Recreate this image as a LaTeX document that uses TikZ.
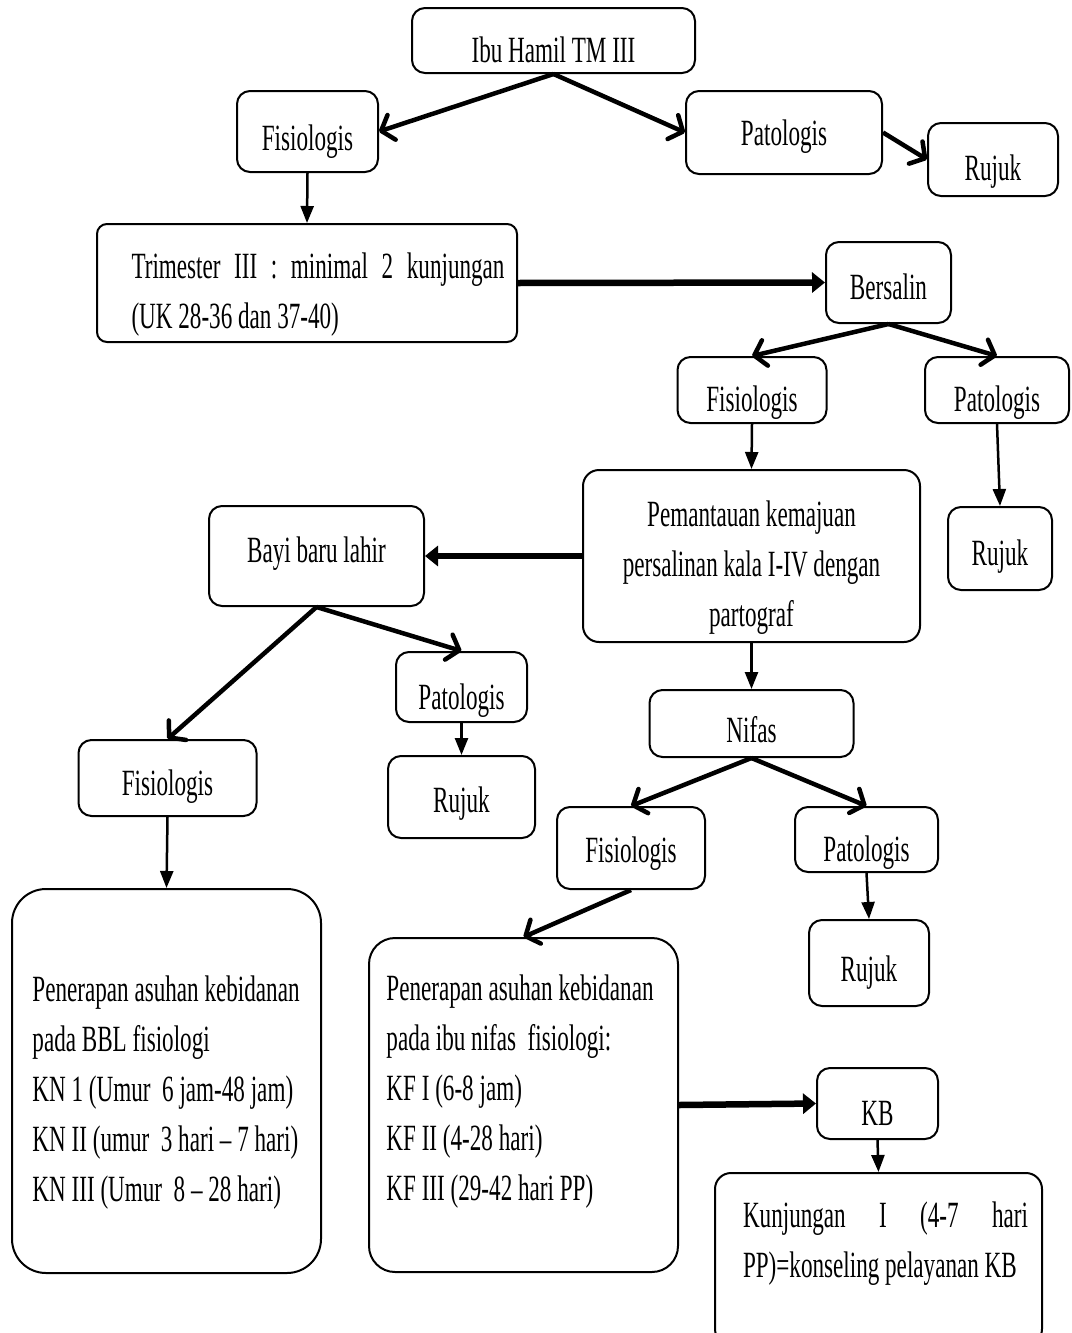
\documentclass[tikz,border=0pt]{standalone}
\usepackage{fontspec}
\setmainfont{Liberation Serif}[FakeStretch=0.625]
\usetikzlibrary{arrows.meta}

\begin{document}
\begin{tikzpicture}[x=1pt, y=-1pt, font=\fontsize{37}{50}\selectfont,
    box/.style={draw, line width=2pt, rounded corners=13pt, inner sep=0pt, text height=#1, text depth=0pt},
    box/.default=38pt,
    bigbox/.style={draw, line width=2pt, rounded corners=#1, inner sep=0pt},
    bigbox/.default=16pt,
    fork/.style={line width=4.5pt, arrows={-Straight Barb[length=11pt, width=26pt, line width=4.5pt 0 1, round]}},
    push/.style={line width=6.5pt, arrows={-Triangle[length=13pt, width=20pt]}},
    down/.style={line width=2.5pt, arrows={-Triangle[length=17pt, width=13pt]}}]
            \useasboundingbox (0,0) rectangle (1071,1333);

            % kehamilan
            \node[box=44pt, minimum width=283pt, minimum height=65pt] (ibu) at (553.5,40.5) {Ibu Hamil TM III};
            \node[box=38pt, minimum width=141pt, minimum height=81pt] (fisA) at (307.5,131.5) {Fisiologis};
            \node[box=26pt, minimum width=196pt, minimum height=83pt] (patA) at (784,132.5) {Patologis};
            \node[box=42pt, minimum width=130pt, minimum height=73pt] (rujA) at (993,159.5) {Rujuk};
            \node[bigbox=10pt, minimum width=420pt, minimum height=118pt] (trim) at (307,283) {};
            \node[align=left, inner sep=0pt] (trimtxt) at (318,295)
                {\makebox[373pt][s]{Trimester III : minimal 2 kunjungan}\\(UK 28-36 dan 37-40)};

            % persalinan
            \node[box=34pt, minimum width=125pt, minimum height=81pt] (bers) at (888.5,282.5) {Bersalin};
            \node[box=42pt, minimum width=149pt, minimum height=66pt] (fisB) at (752,390) {Fisiologis};
            \node[box=42pt, minimum width=144pt, minimum height=66pt] (patB) at (997,390) {Patologis};
            \node[bigbox, minimum width=337pt, minimum height=172pt] (pem) at (751.5,556) {};
            \node[align=center, inner sep=0pt] (pemtxt) at (751.5,568)
                {Pemantauan kemajuan\\persalinan kala I-IV\ dengan\\partograf};
            \node[box=33pt, minimum width=104pt, minimum height=83pt] (rujB) at (1000,548.5) {Rujuk};

            % bayi baru lahir
            \node[box=12pt, minimum width=215pt, minimum height=100pt] (bayi) at (316.5,556) {Bayi baru lahir};
            \node[box=44pt, minimum width=131pt, minimum height=70pt] (patC) at (461.5,687) {Patologis};
            \node[box=30pt, minimum width=147pt, minimum height=82pt] (rujC) at (461.5,797) {Rujuk};
            \node[box=34pt, minimum width=178pt, minimum height=76pt] (fisC) at (167.5,778) {Fisiologis};
            \node[bigbox=34pt, minimum width=309pt, minimum height=384pt] (bbl) at (166.5,1081) {};
            \node[align=left, inner sep=0pt] (bbltxt) at (166,1093)
                {Penerapan asuhan kebidanan\\pada BBL fisiologi\\KN 1 (Umur\ \ 6 jam-48 jam)\\KN II (umur\ \ 3 hari – 7 hari)\\KN III (Umur\ \ 8 – 28 hari)};

            % nifas
            \node[box=38pt, minimum width=204pt, minimum height=67pt] (nifas) at (751.5,723.5) {Nifas};
            \node[box=28pt, minimum width=148pt, minimum height=82pt] (fisD) at (631,848) {Fisiologis};
            \node[box=44pt, minimum width=143pt, minimum height=65pt] (patD) at (866.5,839.5) {Patologis};
            \node[box=36pt, minimum width=120pt, minimum height=86pt] (rujD) at (869,963) {Rujuk};
            \node[bigbox=26pt, minimum width=309pt, minimum height=334pt] (kfbox) at (523.5,1105) {};
            \node[align=left, inner sep=0pt] (kftxt) at (520,1092)
                {Penerapan asuhan kebidanan\\pada ibu nifas\ \ fisiologi:\\KF I (6-8 jam)\\KF II (4-28 hari)\\KF III (29-42 hari PP)};
            \node[box=44pt, minimum width=121pt, minimum height=71pt] (kb) at (877.5,1103.5) {KB};
            \node[bigbox, minimum width=327pt, minimum height=172pt] (kunj) at (878.5,1259) {};
            \node[align=left, inner sep=0pt] (kunjtxt) at (885.5,1244)
                {\makebox[285pt][s]{Kunjungan I (4-7 hari}\\PP)=konseling pelayanan KB};

            %%%%%%%%%%%%%%%%%%%%%%%%%%%%%%%%%%%%%%%%%%%%%%%%%%%%%%%%%%%%%
            \draw[fork] (ibu.south) -- (fisA.east);
            \draw[fork] (ibu.south) -- (patA.west);
            \draw[fork] (patA.east) -- (rujA.west);
            \draw[fork] (bers.south) -- (fisB.north);
            \draw[fork] (bers.south) -- (patB.north);
            \draw[fork] (bayi.south) -- (fisC.north);
            \draw[fork] (bayi.south) -- (patC.north);
            \draw[fork] (nifas.south) -- (fisD.north);
            \draw[fork] (nifas.south) -- (patD.north);
            \draw[fork] (fisD.south) -- (kfbox.north);

            \draw[push] (trim.east) -- (bers.west);
            \draw[push] (pem.west) -- (bayi.east);
            \draw[push] (kfbox.east) -- (kb.west);

            \foreach \a/\b in {fisA/trim, fisB/pem, patB/rujB, pem/nifas, patC/rujC, fisC/bbl, patD/rujD, kb/kunj}
            {
                \draw[down] (\a.south) -- (\b.north);
            }
\end{tikzpicture}
\end{document}
